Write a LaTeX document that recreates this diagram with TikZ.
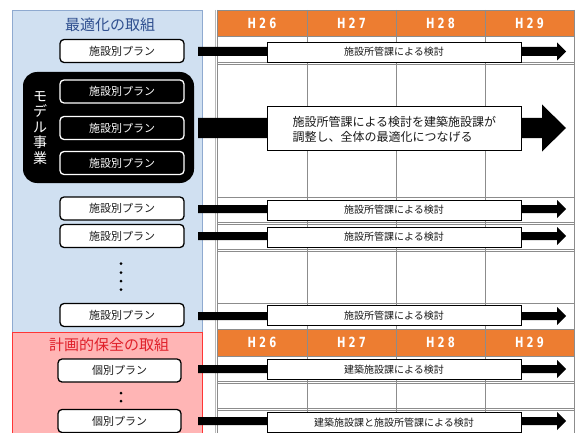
\documentclass[tikz,border=0pt]{standalone}
\usepackage{fontspec}
\setmainfont{Noto Sans CJK JP}
\newfontfamily\hfont[FakeStretch=0.72,LetterSpace=22]{DejaVu Sans}
\definecolor{hdr}{HTML}{ED7D31}
\definecolor{gridc}{HTML}{8C8C8C}
\definecolor{bluefill}{HTML}{D0E0F1}
\definecolor{blueline}{HTML}{8FAAD0}
\definecolor{bluetxt}{HTML}{2F4F8F}
\definecolor{redfill}{HTML}{FFB5B5}
\definecolor{redline}{HTML}{FF3535}
\definecolor{redtxt}{HTML}{E0202A}
\definecolor{txt}{HTML}{1A1A1A}
\tikzset{
  planbox/.style={draw=black, line width=1.3pt, fill=white, rounded corners=4pt,
    minimum width=124pt, minimum height=23pt, inner sep=0pt, text=txt,
    font=\fontsize{11}{11}\selectfont},
  mplan/.style={planbox, fill=black, draw=white, text=white},
  lblbox/.style={draw=black, line width=0.9pt, fill=white, minimum width=254pt,
    minimum height=20pt, inner sep=0pt, text=txt, font=\fontsize{10}{10}\selectfont},
  hdrtext/.style={text=white, font=\hfont\bfseries\fontsize{14}{14}\selectfont},
  gline/.style={draw=gridc, line width=0.9pt},
  dotmark/.style={circle, fill=black, inner sep=0pt, minimum size=3pt}
}
% #1 name, #2 y centre, #3 half bar, #4 head base x, #5 half head
\newcommand\fatarrow[5]{%
  \coordinate (#1s) at (198,#2);
  \coordinate (#1e) at (566,#2);
  \fill[black] ([yshift=#3pt]#1s) -- ([yshift=#3pt]#1s -| #4,0) -- ([yshift=#5pt]#1s -| #4,0)
    -- (#1e) -- ([yshift=-#5pt]#1s -| #4,0) -- ([yshift=-#3pt]#1s -| #4,0)
    -- ([yshift=-#3pt]#1s) -- cycle;}
\begin{document}
\begin{tikzpicture}[x=1pt,y=-1pt]
\useasboundingbox (0,0) rectangle (575,433);
% panels
\fill[bluefill] (12,10) rectangle (202,332);
\draw[blueline,line width=0.8pt] (12,332) -- (12,10) -- (202,10) -- (202,332);
\fill[redfill] (12,332) rectangle (202,434);
\draw[redline,line width=0.8pt] (12,434) -- (12,332) -- (202,332) -- (202,434);
\node[text=bluetxt,font=\fontsize{15}{15}\selectfont] (t1) at (110,25) {最適化の取組};
\node[text=redtxt,font=\fontsize{15}{15}\selectfont] (t2) at (109,345) {計画的保全の取組};
% grid
\fill[hdr] (217,10) rectangle (574,36);
\fill[hdr] (217,329) rectangle (574,356);
\foreach \y in {10,36,62,64.5,197,222,224.5,249,251.5,303,329,356,381,383.5,408,410.5}
  \draw[gline] (217,\y) -- (574,\y);
\foreach \x in {217,307,396,485,574}
  \draw[gline] (\x,10) -- (\x,434);
\draw[draw=gridc!60, line width=0.6pt] (215,10) -- (215,434);
\node[hdrtext] (h1) at (262,23) {H26};
\node[hdrtext] (h2) at (351.5,23) {H27};
\node[hdrtext] (h3) at (440.5,23) {H28};
\node[hdrtext] (h4) at (529.5,23) {H29};
\node[hdrtext] (h5) at (262,342.5) {H26};
\node[hdrtext] (h6) at (351.5,342.5) {H27};
\node[hdrtext] (h7) at (440.5,342.5) {H28};
\node[hdrtext] (h8) at (529.5,342.5) {H29};
% model block
\node[fill=black, rounded corners=14pt, minimum width=171pt, minimum height=111pt, inner sep=0pt] (model) at (108.5,127.5) {};
\node[text=white, align=center, font=\fontsize{14}{15.5}\selectfont] (mtxt) at (40,128) {モ\\デ\\ル\\事\\業};
% plan boxes
\node[planbox] (p1) at (122,51) {施設別プラン};
\node[mplan] (m1) at (122,91.5) {施設別プラン};
\node[mplan] (m2) at (122,128) {施設別プラン};
\node[mplan] (m3) at (122,163) {施設別プラン};
\node[planbox] (p3) at (122,208.5) {施設別プラン};
\node[planbox] (p4) at (122,236) {施設別プラン};
\node[planbox] (p6) at (122,315) {施設別プラン};
\node[planbox, minimum width=123pt] (r1) at (119.5,370.5) {個別プラン};
\node[planbox, minimum width=123pt] (r2) at (119.5,421) {個別プラン};
% dots
\foreach \y [count=\i] in {263.5,272.5,281,289.5} \node[dotmark] (d\i) at (121,\y) {};
\node[dotmark] (e1) at (121,393) {};
\node[dotmark] (e2) at (121,401) {};
% arrows
\fatarrow{a1}{51.5}{4.5}{557}{9}
\fatarrow{a2}{128}{10}{542}{23.5}
\fatarrow{a3}{209}{4}{557}{9}
\fatarrow{a4}{236}{4}{557}{9}
\fatarrow{a6}{316}{4}{557}{9}
\fatarrow{a7}{369}{4}{557}{9}
\fatarrow{a9}{421}{4}{557}{9}
% labels
\node[lblbox] (l1) at (394,52) {施設所管課による検討};
\node[lblbox, minimum height=44pt] (l2) at (394,128) {};
\node[anchor=west, align=left, text=txt, font=\fontsize{12}{15}\selectfont] (l2t) at (289,129.5) {施設所管課による検討を建築施設課が\\調整し、全体の最適化につなげる};
\node[lblbox] (l3) at (394,210) {施設所管課による検討};
\node[lblbox] (l4) at (394,237) {施設所管課による検討};
\node[lblbox] (l6) at (394,315.5) {施設所管課による検討};
\node[lblbox] (l7) at (394,369.5) {建築施設課による検討};
\node[lblbox] (l9) at (394,422.5) {建築施設課と施設所管課による検討};
\end{tikzpicture}
\end{document}
